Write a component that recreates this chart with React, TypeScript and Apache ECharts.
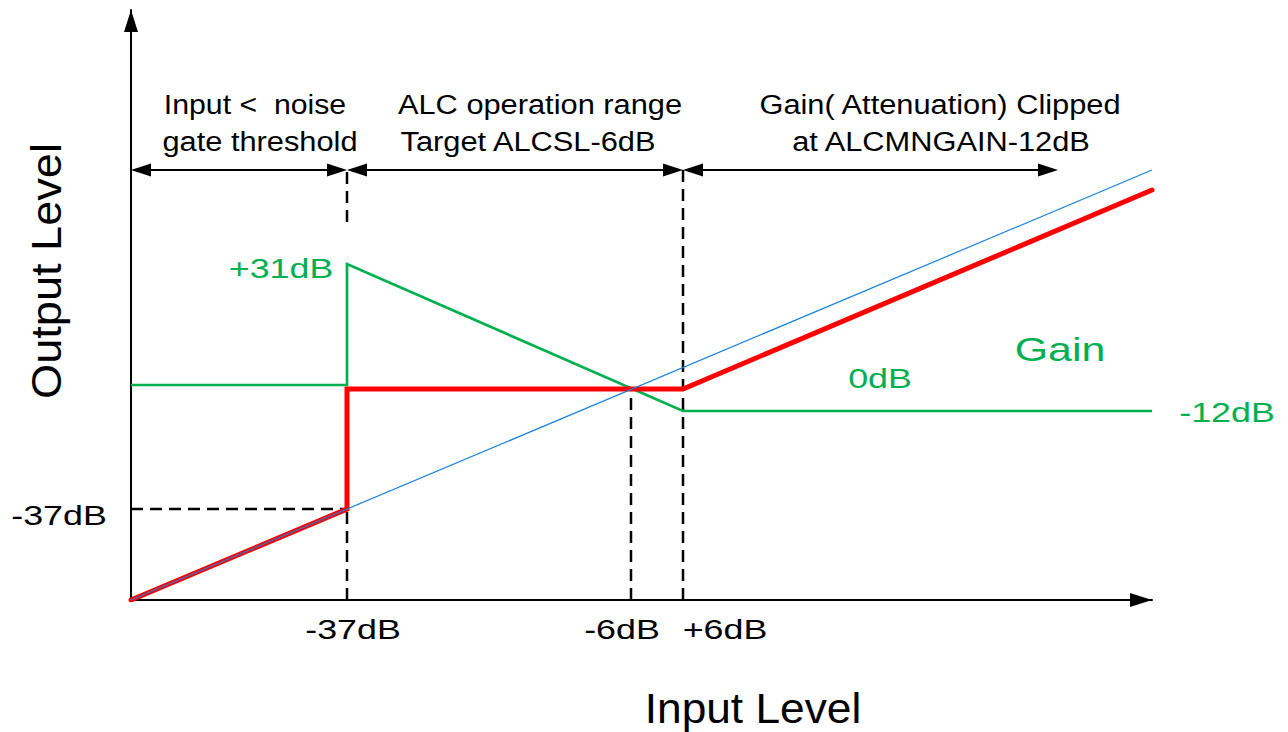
import React, { useEffect, useRef } from "react";
import * as echarts from "echarts";

// Schematic ALC transfer diagram (abstract level units along each axis)
const unityLine: number[][] = [[0, 0], [1021, 430]];
const outputLine: number[][] = [[0, 0], [216, 91], [216, 211], [552, 211], [1021, 410]];
const gainLine: number[][] = [[0, 215], [216, 215], [216, 336], [552, 189], [1021, 189]];
const sectionBounds: number[] = [0, 216, 552, 927];
const sectionArrowLevel = 430;
const guideLines: number[][][] = [
  [[0, 91], [216, 91]],
  [[216, 0], [216, 91]],
  [[216, 378], [216, 430]],
  [[500, 0], [500, 211]],
  [[552, 0], [552, 430]],
];
const sectionTitles: string[][] = [
  ["Input <  noise", "gate threshold"],
  ["ALC operation range", "Target ALCSL-6dB"],
  ["Gain( Attenuation) Clipped", "at ALCMNGAIN-12dB"],
];
const xTickLabels: string[] = ["-37dB", "-6dB", "+6dB"];
const yTickLabels: string[] = ["-37dB"];
const gainLabels: string[] = ["+31dB", "0dB", "-12dB"];
const gainTitle = "Gain";
const xAxisName = "Input Level";
const yAxisName = "Output Level";

const FONT = "'Liberation Sans', Arial, Helvetica, sans-serif";
const GREEN = "#00B050";
const ARROW_LEN = 20;
const AXIS_ARROW = [14, 22];

export default function App() {
  const ref = useRef<HTMLDivElement>(null);
  useEffect(() => {
    if (!ref.current) return;
    const chart = echarts.init(ref.current, undefined, { renderer: "svg" });

    const txt = (text: string, x: number, y: number, size: number, fill: string, scaleX = 1, extra: any = {}) => ({
      type: "text",
      x,
      y,
      scaleX,
      ...extra,
      style: {
        text,
        fill,
        fontSize: size,
        fontFamily: FONT,
        align: "center",
        verticalAlign: "middle",
      },
    });

    const half = ARROW_LEN / 2;
    const sectionArrows = sectionBounds.slice(0, -1).map((s, i) => [
      { coord: [s + half, sectionArrowLevel] },
      { coord: [sectionBounds[i + 1] - half, sectionArrowLevel] },
    ]);

    const axisLine = {
      show: true,
      symbol: ["none", "triangle"],
      symbolSize: AXIS_ARROW,
      symbolOffset: [0, -AXIS_ARROW[1] / 2],
      lineStyle: { color: "#000", width: 2 },
    };
    const axisCommon = {
      type: "value",
      axisTick: { show: false },
      axisLabel: { show: false },
      splitLine: { show: false },
      axisLine,
    };

    chart.setOption({
      animation: false,
      backgroundColor: "#ffffff",
      grid: { left: 131, top: 10, width: 1021, height: 590 },
      xAxis: { ...axisCommon, min: 0, max: 1021 },
      yAxis: { ...axisCommon, min: 0, max: 590 },
      series: [
        ...guideLines.map((seg) => ({
          type: "line",
          data: seg,
          symbol: "none",
          silent: true,
          lineStyle: { color: "#000", width: 2.5, type: [12, 7] },
          z: 1,
        })),
        {
          type: "line",
          data: [],
          symbol: "none",
          silent: true,
          markLine: {
            silent: true,
            symbol: ["triangle", "triangle"],
            symbolSize: [13, ARROW_LEN],
            label: { show: false },
            lineStyle: { color: "#000", width: 2, type: "solid" },
            data: sectionArrows,
          },
          z: 2,
        },
        {
          type: "line",
          data: gainLine,
          symbol: "none",
          lineStyle: { color: GREEN, width: 2.7, join: "miter" },
          z: 3,
        },
        {
          type: "line",
          data: outputLine,
          symbol: "none",
          lineStyle: { color: "#FF0000", width: 5, join: "miter", cap: "round" },
          z: 4,
        },
        {
          type: "line",
          data: unityLine,
          symbol: "none",
          lineStyle: { color: "#1A80D8", width: 1.2 },
          z: 5,
        },
      ],
      graphic: [
        txt(sectionTitles[0][0], 255, 104, 28, "#000", 1.08),
        txt(sectionTitles[0][1], 260, 141, 28, "#000", 1.1),
        txt(sectionTitles[1][0], 540, 104, 28, "#000", 1.1),
        txt(sectionTitles[1][1], 528, 141, 28, "#000", 1.1),
        txt(sectionTitles[2][0], 940, 104, 28, "#000", 1.1),
        txt(sectionTitles[2][1], 941, 141, 28, "#000", 1.1),
        txt(xTickLabels[0], 353, 629, 28, "#000", 1.28),
        txt(xTickLabels[1], 622, 629, 28, "#000", 1.28),
        txt(xTickLabels[2], 725, 629, 28, "#000", 1.28),
        txt(yTickLabels[0], 59, 515, 28, "#000", 1.28),
        txt(gainLabels[0], 281, 268, 28, GREEN, 1.28),
        txt(gainLabels[1], 880, 378, 28, GREEN, 1.28),
        txt(gainLabels[2], 1227, 412, 28, GREEN, 1.28),
        txt(gainTitle, 1060, 349, 33, GREEN, 1.3),
        txt(xAxisName, 753, 708, 43, "#000", 1.03),
        txt(yAxisName, 46, 271, 43, "#000", 1.05, { rotation: Math.PI / 2 }),
      ],
    });
    return () => chart.dispose();
  }, []);

  return (
    <div
      ref={ref}
      style={{ position: "fixed", left: 0, top: 0, width: 1288, height: 732, background: "#fff" }}
    />
  );
}
